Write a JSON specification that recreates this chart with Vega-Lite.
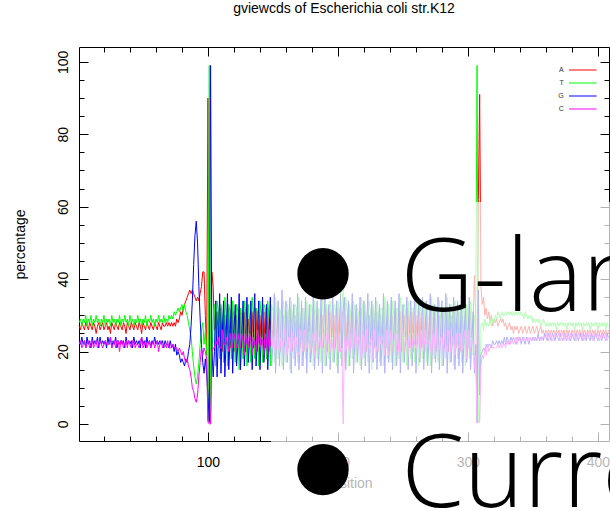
{
"$schema":"https://vega.github.io/schema/vega-lite/v6.json",
"width":530,"height":394,
"autosize":{"type":"none"},
"padding":{"left":79,"top":47,"right":1,"bottom":70},
"background":"white",
"title":{"text":"gviewcds of Escherichia coli str.K12","font":"Liberation Sans","fontSize":14,"fontWeight":"normal","color":"black","offset":20,"baseline":"alphabetic","frame":"group","anchor":"middle"},
"config":{"view":{"stroke":"black","strokeWidth":1},"axis":{"labelFont":"Liberation Sans","labelFontSize":14,"labelColor":"black","titleFont":"Liberation Sans","titleFontSize":14,"titleFontWeight":"normal","titleColor":"black","tickColor":"black","tickWidth":1,"grid":false,"domain":false,"labelOverlap":false,"labelFlush":false,"labelBound":false}},
"datasets":{
"g":[
{"p":1,"A":27,"T":28,"G":23,"C":22},{"p":2,"A":26,"T":29,"G":22,"C":23},{"p":3,"A":28,"T":27,"G":24,"C":21},{"p":4,"A":27,"T":29,"G":22,"C":22},{"p":5,"A":26,"T":28,"G":23,"C":23},{"p":6,"A":28,"T":30,"G":21,"C":21},{"p":7,"A":27,"T":27,"G":24,"C":22},{"p":8,"A":26,"T":29,"G":22,"C":23},{"p":9,"A":28,"T":28,"G":23,"C":21},{"p":10,"A":27,"T":30,"G":21,"C":22},
{"p":11,"A":26,"T":27,"G":24,"C":23},{"p":12,"A":28,"T":29,"G":22,"C":21},{"p":13,"A":27,"T":28,"G":23,"C":22},{"p":14,"A":25,"T":30,"G":22,"C":23},{"p":15,"A":27,"T":28,"G":24,"C":21},{"p":16,"A":28,"T":29,"G":21,"C":22},{"p":17,"A":26,"T":27,"G":24,"C":23},{"p":18,"A":27,"T":29,"G":22,"C":22},{"p":19,"A":28,"T":28,"G":23,"C":21},{"p":20,"A":26,"T":30,"G":22,"C":22},
{"p":21,"A":27,"T":27,"G":23,"C":23},{"p":22,"A":28,"T":29,"G":21,"C":22},{"p":23,"A":26,"T":28,"G":24,"C":22},{"p":24,"A":27,"T":29,"G":22,"C":22},{"p":25,"A":25,"T":27,"G":24,"C":24},{"p":26,"A":28,"T":30,"G":21,"C":21},{"p":27,"A":27,"T":28,"G":23,"C":22},{"p":28,"A":26,"T":29,"G":22,"C":23},{"p":29,"A":28,"T":27,"G":24,"C":21},{"p":30,"A":27,"T":29,"G":21,"C":23},
{"p":31,"A":26,"T":28,"G":23,"C":23},{"p":32,"A":28,"T":30,"G":22,"C":20},{"p":33,"A":27,"T":27,"G":23,"C":23},{"p":34,"A":26,"T":29,"G":22,"C":23},{"p":35,"A":28,"T":28,"G":23,"C":21},{"p":36,"A":27,"T":30,"G":21,"C":22},{"p":37,"A":25,"T":28,"G":24,"C":23},{"p":38,"A":28,"T":29,"G":22,"C":21},{"p":39,"A":27,"T":27,"G":23,"C":23},{"p":40,"A":26,"T":30,"G":22,"C":22},
{"p":41,"A":28,"T":28,"G":23,"C":21},{"p":42,"A":27,"T":29,"G":21,"C":23},{"p":43,"A":26,"T":27,"G":24,"C":23},{"p":44,"A":28,"T":29,"G":22,"C":21},{"p":45,"A":27,"T":28,"G":23,"C":22},{"p":46,"A":26,"T":30,"G":22,"C":22},{"p":47,"A":28,"T":28,"G":23,"C":21},{"p":48,"A":27,"T":29,"G":21,"C":23},{"p":49,"A":25,"T":27,"G":24,"C":24},{"p":50,"A":28,"T":29,"G":22,"C":21},
{"p":51,"A":27,"T":28,"G":23,"C":22},{"p":52,"A":26,"T":30,"G":21,"C":23},{"p":53,"A":28,"T":27,"G":24,"C":21},{"p":54,"A":27,"T":29,"G":22,"C":22},{"p":55,"A":26,"T":28,"G":23,"C":23},{"p":56,"A":28,"T":30,"G":21,"C":21},{"p":57,"A":27,"T":28,"G":23,"C":22},{"p":58,"A":26,"T":29,"G":22,"C":23},{"p":59,"A":28,"T":27,"G":24,"C":21},{"p":60,"A":27,"T":29,"G":22,"C":22},
{"p":61,"A":26,"T":28,"G":23,"C":23},{"p":62,"A":28,"T":30,"G":22,"C":20},{"p":63,"A":27,"T":28,"G":23,"C":22},{"p":64,"A":26,"T":29,"G":22,"C":23},{"p":65,"A":28,"T":28,"G":23,"C":21},{"p":66,"A":27,"T":30,"G":21,"C":22},{"p":67,"A":27,"T":28,"G":23,"C":22},{"p":68,"A":28,"T":29,"G":22,"C":21},{"p":69,"A":27,"T":28,"G":22,"C":23},{"p":70,"A":28,"T":30,"G":21,"C":21},
{"p":71,"A":27,"T":29,"G":23,"C":21},{"p":72,"A":28,"T":30,"G":21,"C":21},{"p":73,"A":27,"T":29,"G":22,"C":22},{"p":74,"A":28,"T":31,"G":20,"C":21},{"p":75,"A":27,"T":30,"G":22,"C":21},{"p":76,"A":29,"T":31,"G":19,"C":21},{"p":77,"A":28,"T":32,"G":20,"C":20},{"p":78,"A":29,"T":31,"G":19,"C":21},{"p":79,"A":31,"T":32,"G":17,"C":20},{"p":80,"A":30,"T":33,"G":18,"C":19},
{"p":81,"A":32,"T":31,"G":17,"C":20},{"p":82,"A":33,"T":33,"G":16,"C":18},{"p":83,"A":34,"T":31,"G":18,"C":17},{"p":84,"A":35,"T":30,"G":17,"C":18},{"p":85,"A":36,"T":28,"G":20,"C":16},{"p":86,"A":37,"T":26,"G":22,"C":15},{"p":87,"A":36,"T":24,"G":27,"C":13},{"p":88,"A":37,"T":20,"G":34,"C":10},{"p":89,"A":36,"T":16,"G":44,"C":9},{"p":90,"A":35,"T":13,"G":52,"C":7},
{"p":91,"A":34,"T":11,"G":56,"C":6},{"p":92,"A":35,"T":13,"G":50,"C":8},{"p":93,"A":34,"T":17,"G":38,"C":13},{"p":94,"A":36,"T":22,"G":29,"C":17},{"p":95,"A":38,"T":26,"G":22,"C":21},{"p":96,"A":42,"T":28,"G":17,"C":19},{"p":97,"A":42,"T":22,"G":14,"C":21},{"p":98,"A":30,"T":26,"G":18,"C":20},{"p":99,"A":19,"T":20,"G":14,"C":18},{"p":100,"A":90,"T":1,"G":8,"C":0.5},
{"p":101,"A":0.5,"T":99,"G":0.5,"C":0},{"p":102,"A":0.5,"T":0.5,"G":99,"C":0},
{"p":103,"A":42,"T":17,"G":21,"C":20},{"p":104,"A":38,"T":28,"G":13,"C":21},{"p":105,"A":26,"T":33,"G":20,"C":21},
{"p":106,"A":27,"T":16,"G":34,"C":23},{"p":107,"A":31,"T":34,"G":13,"C":22},{"p":108,"A":22,"T":31,"G":23,"C":24},
{"p":109,"A":25,"T":18,"G":36,"C":21},{"p":110,"A":32,"T":33,"G":14,"C":21},{"p":111,"A":20,"T":29,"G":25,"C":26},
{"p":112,"A":27,"T":17,"G":34,"C":22},{"p":113,"A":30,"T":35,"G":13,"C":22},{"p":114,"A":22,"T":30,"G":24,"C":24},
{"p":115,"A":26,"T":16,"G":36,"C":22},{"p":116,"A":32,"T":33,"G":15,"C":20},{"p":117,"A":21,"T":31,"G":23,"C":25},
{"p":118,"A":24,"T":18,"G":35,"C":23},{"p":119,"A":31,"T":34,"G":14,"C":21},{"p":120,"A":20,"T":29,"G":26,"C":25},
{"p":121,"A":27,"T":17,"G":33,"C":23},{"p":122,"A":30,"T":33,"G":16,"C":21},{"p":123,"A":22,"T":31,"G":22,"C":25},
{"p":124,"A":26,"T":15,"G":36,"C":23},{"p":125,"A":32,"T":32,"G":15,"C":21},{"p":126,"A":21,"T":30,"G":24,"C":25},
{"p":127,"A":25,"T":18,"G":34,"C":23},{"p":128,"A":31,"T":34,"G":16,"C":19},{"p":129,"A":20,"T":31,"G":24,"C":25},
{"p":130,"A":27,"T":16,"G":35,"C":22},{"p":131,"A":29,"T":33,"G":17,"C":21},{"p":132,"A":23,"T":29,"G":23,"C":25},
{"p":133,"A":26,"T":17,"G":34,"C":23},{"p":134,"A":31,"T":35,"G":15,"C":19},{"p":135,"A":21,"T":30,"G":25,"C":24},
{"p":136,"A":24,"T":18,"G":36,"C":22},{"p":137,"A":32,"T":32,"G":16,"C":20},{"p":138,"A":20,"T":31,"G":23,"C":26},
{"p":139,"A":27,"T":16,"G":34,"C":23},{"p":140,"A":30,"T":34,"G":15,"C":21},{"p":141,"A":22,"T":30,"G":24,"C":24},
{"p":142,"A":25,"T":17,"G":35,"C":23},{"p":143,"A":31,"T":33,"G":17,"C":19},{"p":144,"A":21,"T":32,"G":22,"C":25},
{"p":145,"A":26,"T":18,"G":33,"C":23},{"p":146,"A":32,"T":34,"G":15,"C":19},{"p":147,"A":20,"T":29,"G":25,"C":26},
{"p":148,"A":27,"T":16,"G":35,"C":22},{"p":149,"A":30,"T":33,"G":16,"C":21},{"p":150,"A":23,"T":31,"G":22,"C":24},
{"p":151,"A":25,"T":17,"G":36,"C":22},{"p":152,"A":31,"T":35,"G":14,"C":20},{"p":153,"A":21,"T":30,"G":24,"C":25},
{"p":154,"A":26,"T":18,"G":34,"C":22},{"p":155,"A":32,"T":32,"G":16,"C":20},{"p":156,"A":20,"T":31,"G":25,"C":24},
{"p":157,"A":24,"T":16,"G":37,"C":23},{"p":158,"A":30,"T":34,"G":15,"C":21},{"p":159,"A":22,"T":29,"G":23,"C":26},
{"p":160,"A":27,"T":17,"G":34,"C":22},{"p":161,"A":31,"T":33,"G":17,"C":19},{"p":162,"A":21,"T":31,"G":24,"C":24},
{"p":163,"A":26,"T":15,"G":35,"C":24},{"p":164,"A":32,"T":34,"G":14,"C":20},{"p":165,"A":20,"T":30,"G":25,"C":25},
{"p":166,"A":25,"T":18,"G":33,"C":24},{"p":167,"A":30,"T":33,"G":16,"C":21},{"p":168,"A":22,"T":32,"G":22,"C":24},
{"p":169,"A":27,"T":17,"G":36,"C":20},{"p":170,"A":31,"T":35,"G":15,"C":19},{"p":171,"A":21,"T":29,"G":24,"C":26},
{"p":172,"A":26,"T":16,"G":34,"C":24},{"p":173,"A":32,"T":32,"G":16,"C":20},{"p":174,"A":20,"T":31,"G":23,"C":26},
{"p":175,"A":24,"T":18,"G":35,"C":23},{"p":176,"A":31,"T":34,"G":14,"C":21},{"p":177,"A":22,"T":30,"G":25,"C":23},
{"p":178,"A":27,"T":17,"G":33,"C":23},{"p":179,"A":30,"T":33,"G":17,"C":20},{"p":180,"A":21,"T":32,"G":22,"C":25},
{"p":181,"A":25,"T":16,"G":36,"C":23},{"p":182,"A":32,"T":34,"G":15,"C":19},{"p":183,"A":20,"T":30,"G":24,"C":26},
{"p":184,"A":26,"T":18,"G":34,"C":22},{"p":185,"A":31,"T":32,"G":16,"C":21},{"p":186,"A":22,"T":31,"G":23,"C":24},
{"p":187,"A":27,"T":17,"G":35,"C":21},{"p":188,"A":30,"T":35,"G":14,"C":21},{"p":189,"A":21,"T":29,"G":25,"C":25},
{"p":190,"A":24,"T":16,"G":36,"C":24},{"p":191,"A":32,"T":33,"G":16,"C":19},{"p":192,"A":20,"T":31,"G":23,"C":26},
{"p":193,"A":26,"T":18,"G":33,"C":23},{"p":194,"A":31,"T":34,"G":15,"C":20},{"p":195,"A":22,"T":30,"G":24,"C":24},
{"p":196,"A":27,"T":17,"G":35,"C":21},{"p":197,"A":30,"T":33,"G":17,"C":20},{"p":198,"A":21,"T":32,"G":22,"C":25},
{"p":199,"A":25,"T":16,"G":34,"C":25},{"p":200,"A":32,"T":34,"G":14,"C":20},{"p":201,"A":20,"T":30,"G":25,"C":25},
{"p":202,"A":26,"T":18,"G":36,"C":20},{"p":203,"A":31,"T":32,"G":16,"C":21},{"p":204,"A":30,"T":38,"G":32,"C":0},
{"p":205,"A":24,"T":17,"G":35,"C":24},{"p":206,"A":30,"T":35,"G":15,"C":20},{"p":207,"A":22,"T":31,"G":24,"C":23},
{"p":208,"A":27,"T":16,"G":34,"C":23},{"p":209,"A":32,"T":33,"G":16,"C":19},{"p":210,"A":21,"T":29,"G":25,"C":25},
{"p":211,"A":25,"T":18,"G":36,"C":21},{"p":212,"A":31,"T":34,"G":14,"C":21},{"p":213,"A":20,"T":31,"G":23,"C":26},
{"p":214,"A":26,"T":17,"G":33,"C":24},{"p":215,"A":30,"T":32,"G":17,"C":21},{"p":216,"A":22,"T":30,"G":24,"C":24},
{"p":217,"A":27,"T":16,"G":35,"C":22},{"p":218,"A":32,"T":35,"G":15,"C":18},{"p":219,"A":21,"T":32,"G":22,"C":25},
{"p":220,"A":24,"T":18,"G":34,"C":24},{"p":221,"A":31,"T":33,"G":16,"C":20},{"p":222,"A":20,"T":29,"G":25,"C":26},
{"p":223,"A":26,"T":17,"G":36,"C":21},{"p":224,"A":30,"T":34,"G":14,"C":22},{"p":225,"A":22,"T":31,"G":24,"C":23},
{"p":226,"A":27,"T":15,"G":34,"C":24},{"p":227,"A":32,"T":33,"G":17,"C":18},{"p":228,"A":21,"T":30,"G":23,"C":26},
{"p":229,"A":25,"T":18,"G":35,"C":22},{"p":230,"A":31,"T":34,"G":15,"C":20},{"p":231,"A":20,"T":31,"G":25,"C":24},
{"p":232,"A":26,"T":17,"G":33,"C":24},{"p":233,"A":30,"T":32,"G":16,"C":22},{"p":234,"A":22,"T":32,"G":22,"C":24},
{"p":235,"A":24,"T":16,"G":36,"C":24},{"p":236,"A":32,"T":35,"G":14,"C":19},{"p":237,"A":21,"T":29,"G":24,"C":26},
{"p":238,"A":27,"T":18,"G":34,"C":21},{"p":239,"A":31,"T":33,"G":17,"C":19},{"p":240,"A":20,"T":31,"G":23,"C":26},
{"p":241,"A":26,"T":17,"G":35,"C":22},{"p":242,"A":30,"T":34,"G":15,"C":21},{"p":243,"A":22,"T":30,"G":25,"C":23},
{"p":244,"A":25,"T":16,"G":34,"C":25},{"p":245,"A":32,"T":32,"G":16,"C":20},{"p":246,"A":21,"T":32,"G":22,"C":25},
{"p":247,"A":27,"T":18,"G":36,"C":19},{"p":248,"A":31,"T":35,"G":14,"C":20},{"p":249,"A":20,"T":30,"G":24,"C":26},
{"p":250,"A":24,"T":17,"G":33,"C":26},{"p":251,"A":30,"T":33,"G":17,"C":20},{"p":252,"A":22,"T":31,"G":23,"C":24},
{"p":253,"A":26,"T":16,"G":35,"C":23},{"p":254,"A":32,"T":34,"G":15,"C":19},{"p":255,"A":21,"T":29,"G":25,"C":25},
{"p":256,"A":27,"T":18,"G":34,"C":21},{"p":257,"A":31,"T":32,"G":16,"C":21},{"p":258,"A":20,"T":32,"G":23,"C":25},
{"p":259,"A":25,"T":17,"G":36,"C":22},{"p":260,"A":30,"T":35,"G":14,"C":21},{"p":261,"A":22,"T":30,"G":24,"C":24},
{"p":262,"A":26,"T":16,"G":33,"C":25},{"p":263,"A":32,"T":33,"G":17,"C":18},{"p":264,"A":21,"T":31,"G":22,"C":26},
{"p":265,"A":24,"T":18,"G":35,"C":23},{"p":266,"A":31,"T":34,"G":15,"C":20},{"p":267,"A":20,"T":29,"G":25,"C":26},
{"p":268,"A":27,"T":17,"G":34,"C":22},{"p":269,"A":30,"T":32,"G":16,"C":22},{"p":270,"A":22,"T":32,"G":23,"C":23},
{"p":271,"A":26,"T":16,"G":36,"C":22},{"p":272,"A":32,"T":35,"G":14,"C":19},{"p":273,"A":21,"T":30,"G":24,"C":25},
{"p":274,"A":25,"T":18,"G":33,"C":24},{"p":275,"A":31,"T":33,"G":17,"C":19},{"p":276,"A":20,"T":31,"G":23,"C":26},
{"p":277,"A":27,"T":17,"G":35,"C":21},{"p":278,"A":30,"T":34,"G":15,"C":21},{"p":279,"A":22,"T":29,"G":25,"C":24},
{"p":280,"A":26,"T":16,"G":34,"C":24},{"p":281,"A":32,"T":32,"G":16,"C":20},{"p":282,"A":21,"T":32,"G":22,"C":25},
{"p":283,"A":24,"T":18,"G":36,"C":22},{"p":284,"A":31,"T":35,"G":14,"C":20},{"p":285,"A":20,"T":30,"G":24,"C":26},
{"p":286,"A":27,"T":17,"G":33,"C":23},{"p":287,"A":30,"T":33,"G":17,"C":20},{"p":288,"A":22,"T":31,"G":23,"C":24},
{"p":289,"A":25,"T":16,"G":35,"C":24},{"p":290,"A":32,"T":34,"G":15,"C":19},{"p":291,"A":21,"T":29,"G":25,"C":25},
{"p":292,"A":26,"T":18,"G":34,"C":22},{"p":293,"A":31,"T":32,"G":16,"C":21},{"p":294,"A":20,"T":32,"G":23,"C":25},
{"p":295,"A":27,"T":17,"G":36,"C":20},{"p":296,"A":30,"T":35,"G":14,"C":21},{"p":297,"A":22,"T":30,"G":24,"C":24},
{"p":298,"A":25,"T":16,"G":33,"C":26},{"p":299,"A":32,"T":33,"G":17,"C":18},{"p":300,"A":21,"T":31,"G":22,"C":26},
{"p":301,"A":26,"T":18,"G":35,"C":21},{"p":302,"A":31,"T":34,"G":15,"C":20},{"p":303,"A":24,"T":30,"G":23,"C":23},
{"p":304,"A":28,"T":19,"G":31,"C":22},{"p":305,"A":41,"T":30,"G":14,"C":15},{"p":306,"A":30,"T":29,"G":22,"C":19},
{"p":307,"A":0.5,"T":99,"G":0.3,"C":0.2},{"p":308,"A":62,"T":0.5,"G":37,"C":0.5},{"p":309,"A":91,"T":0.5,"G":8,"C":0.5},
{"p":310,"A":38,"T":27,"G":19,"C":16},{"p":311,"A":33,"T":28,"G":20,"C":19},{"p":312,"A":35,"T":26,"G":21,"C":18},{"p":313,"A":30,"T":29,"G":20,"C":21},{"p":314,"A":32,"T":27,"G":22,"C":19},{"p":315,"A":29,"T":28,"G":21,"C":22},{"p":316,"A":31,"T":27,"G":22,"C":20},{"p":317,"A":28,"T":29,"G":22,"C":21},{"p":318,"A":30,"T":27,"G":21,"C":22},{"p":319,"A":27,"T":29,"G":23,"C":21},{"p":320,"A":29,"T":28,"G":22,"C":21},
{"p":321,"A":28,"T":30,"G":22,"C":21},{"p":322,"A":29,"T":29,"G":23,"C":21},{"p":323,"A":27,"T":31,"G":22,"C":22},{"p":324,"A":28,"T":30,"G":23,"C":21},{"p":325,"A":29,"T":29,"G":22,"C":22},{"p":326,"A":28,"T":31,"G":23,"C":21},{"p":327,"A":29,"T":30,"G":22,"C":22},{"p":328,"A":27,"T":30,"G":24,"C":22},{"p":329,"A":28,"T":31,"G":22,"C":21},{"p":330,"A":26,"T":30,"G":24,"C":23},
{"p":331,"A":27,"T":31,"G":23,"C":22},{"p":332,"A":28,"T":30,"G":22,"C":23},{"p":333,"A":26,"T":31,"G":24,"C":22},{"p":334,"A":27,"T":30,"G":23,"C":23},{"p":335,"A":25,"T":31,"G":24,"C":22},{"p":336,"A":27,"T":30,"G":23,"C":23},{"p":337,"A":26,"T":31,"G":22,"C":24},{"p":338,"A":27,"T":30,"G":24,"C":22},{"p":339,"A":25,"T":31,"G":23,"C":24},{"p":340,"A":26,"T":30,"G":24,"C":23},
{"p":341,"A":27,"T":31,"G":22,"C":23},{"p":342,"A":25,"T":30,"G":24,"C":23},{"p":343,"A":26,"T":29,"G":23,"C":24},{"p":344,"A":27,"T":31,"G":22,"C":23},{"p":345,"A":25,"T":30,"G":24,"C":23},{"p":346,"A":26,"T":29,"G":23,"C":24},{"p":347,"A":27,"T":30,"G":22,"C":23},{"p":348,"A":25,"T":29,"G":24,"C":24},{"p":349,"A":26,"T":30,"G":23,"C":23},{"p":350,"A":27,"T":28,"G":24,"C":23},
{"p":351,"A":25,"T":29,"G":23,"C":24},{"p":352,"A":26,"T":28,"G":24,"C":23},{"p":353,"A":27,"T":29,"G":23,"C":23},{"p":354,"A":25,"T":28,"G":25,"C":24},{"p":355,"A":26,"T":29,"G":23,"C":24},{"p":356,"A":27,"T":27,"G":24,"C":23},{"p":357,"A":25,"T":28,"G":24,"C":24},{"p":358,"A":26,"T":29,"G":23,"C":24},{"p":359,"A":24,"T":28,"G":25,"C":24},{"p":360,"A":26,"T":27,"G":24,"C":24},
{"p":361,"A":25,"T":28,"G":23,"C":25},{"p":362,"A":26,"T":27,"G":25,"C":23},{"p":363,"A":24,"T":28,"G":24,"C":25},{"p":364,"A":26,"T":27,"G":23,"C":24},{"p":365,"A":25,"T":28,"G":25,"C":23},{"p":366,"A":26,"T":27,"G":24,"C":24},{"p":367,"A":24,"T":28,"G":23,"C":25},{"p":368,"A":26,"T":26,"G":25,"C":24},{"p":369,"A":25,"T":28,"G":24,"C":24},{"p":370,"A":26,"T":27,"G":23,"C":25},
{"p":371,"A":24,"T":28,"G":25,"C":23},{"p":372,"A":26,"T":27,"G":24,"C":24},{"p":373,"A":25,"T":28,"G":23,"C":25},{"p":374,"A":26,"T":27,"G":25,"C":23},{"p":375,"A":24,"T":28,"G":24,"C":25},{"p":376,"A":26,"T":26,"G":23,"C":24},{"p":377,"A":25,"T":28,"G":25,"C":24},{"p":378,"A":26,"T":27,"G":24,"C":23},{"p":379,"A":24,"T":28,"G":23,"C":25},{"p":380,"A":26,"T":27,"G":25,"C":24},
{"p":381,"A":25,"T":28,"G":24,"C":24},{"p":382,"A":26,"T":26,"G":23,"C":25},{"p":383,"A":24,"T":28,"G":25,"C":23},{"p":384,"A":26,"T":27,"G":24,"C":24},{"p":385,"A":25,"T":28,"G":23,"C":25},{"p":386,"A":26,"T":27,"G":25,"C":24},{"p":387,"A":24,"T":28,"G":24,"C":24},{"p":388,"A":26,"T":26,"G":23,"C":25},{"p":389,"A":25,"T":28,"G":25,"C":23},{"p":390,"A":26,"T":27,"G":24,"C":24},
{"p":391,"A":24,"T":28,"G":23,"C":25},{"p":392,"A":26,"T":27,"G":25,"C":24},{"p":393,"A":25,"T":28,"G":24,"C":24},{"p":394,"A":26,"T":26,"G":23,"C":25},{"p":395,"A":24,"T":28,"G":25,"C":24},{"p":396,"A":26,"T":27,"G":24,"C":23},{"p":397,"A":25,"T":28,"G":23,"C":25},{"p":398,"A":26,"T":27,"G":25,"C":24},{"p":399,"A":24,"T":28,"G":24,"C":24},{"p":400,"A":26,"T":26,"G":23,"C":25},
{"p":401,"A":25,"T":28,"G":25,"C":23},{"p":402,"A":26,"T":27,"G":24,"C":24},{"p":403,"A":24,"T":28,"G":23,"C":25},{"p":404,"A":26,"T":27,"G":25,"C":24},{"p":405,"A":25,"T":28,"G":24,"C":24},{"p":406,"A":26,"T":26,"G":23,"C":25},{"p":407,"A":24,"T":28,"G":25,"C":23},{"p":408,"A":26,"T":27,"G":24,"C":24}
],
"fade":[{"x1":148.5,"x2":440,"y1":61.3,"y2":-40}],
"dots":[{"x":188.5,"y":41.5},{"x":188.5,"y":-12.6}],
"words":[{"x":248.3,"y":31.2,"t":"G-lan"},{"x":248.8,"y":-22.9,"t":"Curre"}]
},
"resolve":{"axis":{"x":"independent","y":"independent"}},
"layer":[
{"data":{"name":"g"},
 "transform":[{"fold":["A","T","G","C"],"as":["base","percentage"]}],
 "mark":{"type":"line","strokeWidth":1,"clip":false},
 "encoding":{
  "x":{"field":"p","type":"quantitative","scale":{"domain":[0.8,408.5],"nice":false,"zero":false},
   "axis":{"orient":"bottom","values":[20,40,60,80,100,120,140,160,180,200,220,240,260,280,300,320,340,360,380,400],"labelExpr":"datum.value % 100 === 0 ? datum.label : ''","tickSize":-9,"tickDash":{"condition":{"test":"datum.value % 100 !== 0","value":[5,40]},"value":[]},"labelPadding":23,"title":"position","titleX":269,"titleY":46,"titleBaseline":"alphabetic"}},
  "y":{"field":"percentage","type":"quantitative","scale":{"domain":[-4.7,104.1],"nice":false,"zero":false},
   "axis":{"orient":"left","values":[0,5,10,15,20,25,30,35,40,45,50,55,60,65,70,75,80,85,90,95,100],"labelExpr":"datum.value % 20 === 0 ? datum.label : ''","tickSize":-9,"tickDash":{"condition":{"test":"datum.value % 20 !== 0","value":[5,40]},"value":[]},"labelAngle":270,"labelAlign":"center","labelBaseline":"alphabetic","labelPadding":21,"title":"percentage","titleAngle":270,"titleX":-59,"titleY":197,"titleAlign":"center","titleBaseline":"middle"}},
  "color":{"field":"base","type":"nominal","scale":{"domain":["A","T","G","C"],"range":["#FF0000","#00FF00","#0000FF","#FF00FF"]},
   "legend":{"orient":"none","legendX":497.75,"legendY":17,"title":null,"symbolType":"M-2.5,0H2.5","symbolSize":121,"symbolStrokeWidth":1,"labelFont":"Liberation Sans","labelFontSize":7,"labelColor":"#333333","labelAlign":"right","labelOffset":-25,"rowPadding":4,"padding":0}}
 }},
{"data":{"name":"fade"},
 "mark":{"type":"rect","fill":"white","opacity":0.7},
 "encoding":{
  "x":{"field":"x1","type":"quantitative","scale":{"domain":[0.8,408.5],"nice":false,"zero":false},
   "axis":{"orient":"top","values":[20,40,60,80,100,120,140,160,180,200,220,240,260,280,300,320,340,360,380,400],"labels":false,"tickSize":-9,"tickDash":{"condition":{"test":"datum.value % 100 !== 0","value":[5,40]},"value":[]},"title":null}},
  "x2":{"field":"x2"},
  "y":{"field":"y1","type":"quantitative","scale":{"domain":[-4.7,104.1],"nice":false,"zero":false},
   "axis":{"orient":"right","values":[0,5,10,15,20,25,30,35,40,45,50,55,60,65,70,75,80,85,90,95,100],"labels":false,"tickSize":-9,"tickDash":{"condition":{"test":"datum.value % 20 !== 0","value":[5,40]},"value":[]},"title":null}},
  "y2":{"field":"y2"}
 }},
{"data":{"name":"dots"},
 "mark":{"type":"point","filled":true,"color":"black","opacity":1,"size":2642,"strokeWidth":0},
 "encoding":{
  "x":{"field":"x","type":"quantitative","scale":{"domain":[0.8,408.5],"nice":false,"zero":false},"axis":null},
  "y":{"field":"y","type":"quantitative","scale":{"domain":[-4.7,104.1],"nice":false,"zero":false},"axis":null}
 }},
{"data":{"name":"words"},
 "mark":{"type":"text","font":"Open Sans","fontWeight":300,"fontSize":101,"align":"left","baseline":"alphabetic","color":"black"},
 "encoding":{
  "x":{"field":"x","type":"quantitative","scale":{"domain":[0.8,408.5],"nice":false,"zero":false},"axis":null},
  "y":{"field":"y","type":"quantitative","scale":{"domain":[-4.7,104.1],"nice":false,"zero":false},"axis":null},
  "text":{"field":"t"}
 }}
]
}
